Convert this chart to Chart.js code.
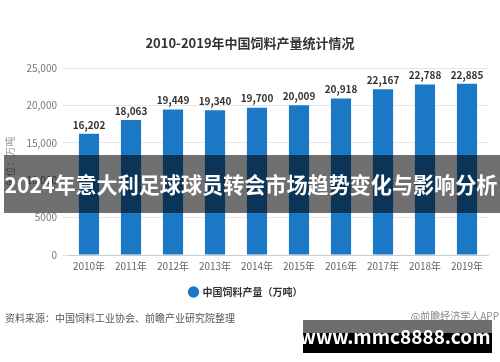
<!DOCTYPE html>
<html>
<head>
<meta charset="utf-8">
<script src="https://cdn.jsdelivr.net/npm/chart.js@4"></script>
<style>
  html, body { margin: 0; padding: 0; background: #fff; }
  #wrap { width: 500px; height: 362px; position: relative; }
</style>
</head>
<body>
<div id="wrap"><canvas id="chart" width="500" height="362"></canvas></div>
<script>
const years = ["2010年", "2011年", "2012年", "2013年", "2014年", "2015年", "2016年", "2017年", "2018年", "2019年"];
const output = [16202, 18063, 19449, 19340, 19700, 20009, 20918, 22167, 22788, 22885];
const yTicks = [0, 5000, 10000, 15000, 20000, 25000];
const yTickText = ["0", "5000", "10,000", "15,000", "20,000", "25,000"];

const FONT = '"Noto Sans CJK SC", "Noto Sans", sans-serif';

// labels above bars, the banner over the middle and the footer texts
const extras = {
  id: "extras",
  afterDatasetsDraw(chart) {
    const ctx = chart.ctx;
    const meta = chart.getDatasetMeta(0);
    ctx.save();
    ctx.font = "bold 10px " + FONT;
    ctx.fillStyle = "#333";
    ctx.textAlign = "center";
    ctx.textBaseline = "bottom";
    meta.data.forEach((bar, i) => {
      ctx.fillText(output[i].toLocaleString("en-US"), bar.x, bar.y - 4);
    });
    ctx.restore();
  },
  afterDraw(chart) {
    const ctx = chart.ctx;
    ctx.save();
    // chart title
    ctx.font = "bold 13px " + FONT;
    ctx.fillStyle = "#333";
    ctx.textAlign = "center";
    ctx.textBaseline = "middle";
    ctx.fillText("2010-2019年中国饲料产量统计情况", 250, 43);

    // footer
    ctx.font = "10px " + FONT;
    ctx.fillStyle = "#555";
    ctx.textAlign = "left";
    ctx.fillText("资料来源：中国饲料工业协会、前瞻产业研究院整理", 5, 318);
    ctx.textAlign = "right";
    ctx.fillStyle = "#888";
    ctx.fillText("@前瞻经济学人APP", 499, 316);

    // banner
    ctx.fillStyle = "rgba(0,0,0,0.56)";
    ctx.fillRect(4, 155, 496, 58);
    ctx.fillStyle = "#fff";
    ctx.textAlign = "center";
    let size = 21;
    const txt = "2024年意大利足球球员转会市场趋势变化与影响分析";
    ctx.font = "bold " + size + "px " + FONT;
    const w = ctx.measureText(txt).width;
    size = size * 492 / w;
    ctx.font = "bold " + size.toFixed(1) + "px " + FONT;
    ctx.fillText(txt, 251, 185);

    // site stamp
    ctx.fillStyle = "#000";
    ctx.fillRect(303, 320, 189, 33);
    ctx.fillStyle = "#6e6e6e";
    ctx.fillRect(303, 320, 189, 13);
    ctx.fillStyle = "#fff";
    ctx.font = "bold 19px " + FONT;
    ctx.fillText("www.mmc8888.com", 395, 337);
    ctx.restore();
  }
};

new Chart(document.getElementById("chart"), {
  type: "bar",
  data: {
    labels: years,
    datasets: [{
      label: "中国饲料产量（万吨）",
      data: output,
      backgroundColor: "#1b78c4",
      categoryPercentage: 1,
      barPercentage: 0.48
    }]
  },
  options: {
    responsive: false,
    animation: false,
    layout: { padding: { top: 68, right: 12, left: 4, bottom: 55 } },
    plugins: {
      title: { display: false },
      tooltip: { enabled: false },
      legend: {
        position: "bottom",
        labels: {
          usePointStyle: true,
          pointStyle: "circle",
          boxWidth: 8,
          boxHeight: 8,
          color: "#333",
          font: { family: FONT, size: 10, weight: "bold" },
          padding: 10
        }
      }
    },
    scales: {
      x: {
        grid: { display: false, drawTicks: false },
        border: { color: "#ccc" },
        ticks: { color: "#666", font: { family: FONT, size: 10 }, padding: 5 }
      },
      y: {
        min: 0,
        max: 25000,
        afterFit(scale) { scale.width = 64; },
        afterBuildTicks(scale) { scale.ticks = yTicks.map(v => ({ value: v })); },
        grid: { color: "#e6e6e6", tickLength: 6 },
        border: { display: false },
        title: { display: true, text: "单位：万吨", color: "#999", font: { family: FONT, size: 10 }, padding: 0 },
        ticks: {
          color: "#777",
          font: { family: FONT, size: 10 },
          padding: 5,
          callback: (v) => yTickText[yTicks.indexOf(v)]
        }
      }
    }
  },
  plugins: [extras]
});
</script>
</body>
</html>
